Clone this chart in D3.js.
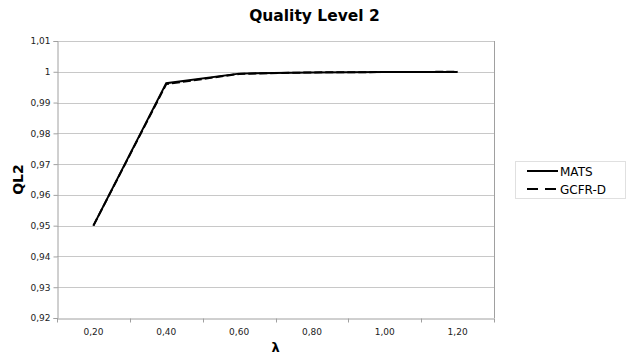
<!DOCTYPE html>
<html>
<head>
<meta charset="utf-8">
<script src="https://cdn.jsdelivr.net/npm/d3@7"></script>
<style>
  body { margin: 0; background: #fff; overflow: hidden; }
  svg { display: block; }
  text { font-family: "DejaVu Sans", Verdana, sans-serif; }
</style>
</head>
<body>
<div id="chart"></div>
<script>
const lambdas = ['0,20', '0,40', '0,60', '0,80', '1,00', '1,20']
const mats = [0.950, 0.9963, 0.9994, 0.9998, 0.9999, 0.99995]
const gcfrd = [0.950, 0.9960, 0.9993, 0.9998, 0.9999, 1.0000]
const yTicks = [0.92, 0.93, 0.94, 0.95, 0.96, 0.97, 0.98, 0.99, 1.00, 1.01]
const yTickLabels = ['0,92', '0,93', '0,94', '0,95', '0,96', '0,97', '0,98', '0,99', '1', '1,01']

const w = 629, h = 360
const pLeft = 57, pRight = 494, pTop = 41, pBottom = 318

const svg = d3.select('#chart').append('svg')
              .attr('width', w)
              .attr('height', h)

const xScale = d3.scaleBand()
                 .domain(lambdas)
                 .range([pLeft, pRight])

const yScale = d3.scaleLinear()
                 .domain([0.92, 1.01])
                 .range([pBottom, pTop])

// gridlines
svg.append('g')
   .selectAll('line')
   .data(yTicks.slice(1))
   .enter()
   .append('line')
   .attr('x1', pLeft)
   .attr('x2', pRight)
   .attr('y1', d => Math.round(yScale(d)) + 0.5)
   .attr('y2', d => Math.round(yScale(d)) + 0.5)
   .attr('stroke', '#c8c8c8')

// plot border right
svg.append('line')
   .attr('x1', pRight + 0.5).attr('x2', pRight + 0.5)
   .attr('y1', pTop).attr('y2', pBottom)
   .attr('stroke', '#a0a0a0')

const yAxis = svg.append('g')
                 .attr('transform', `translate(${pLeft + 0.5},0)`)
                 .call(d3.axisLeft(yScale)
                         .tickValues(yTicks)
                         .tickSize(4)
                         .tickFormat((d, i) => yTickLabels[i]))
yAxis.selectAll('text').attr('font-size', 9).attr('fill', '#222')
yAxis.selectAll('path, line').attr('stroke', '#a0a0a0')

const xAxis = svg.append('g')
                 .attr('transform', `translate(0,${pBottom + 0.5})`)
                 .call(d3.axisBottom(xScale).tickSize(0).tickPadding(10))
xAxis.selectAll('text').attr('font-size', 9).attr('fill', '#222')
xAxis.select('path').attr('stroke', '#a0a0a0')
// category separator ticks
xAxis.selectAll('.sep')
     .data(lambdas.map(l => xScale(l)).concat([pRight]))
     .enter()
     .append('line')
     .attr('x1', d => Math.round(d) + 0.5)
     .attr('x2', d => Math.round(d) + 0.5)
     .attr('y1', 0)
     .attr('y2', 4)
     .attr('stroke', '#a0a0a0')

const line = d3.line()
               .x((d, i) => xScale(lambdas[i]) + xScale.bandwidth() / 2)
               .y(d => yScale(d))

svg.append('path')
   .datum(gcfrd)
   .attr('d', line)
   .attr('fill', 'none')
   .attr('stroke', '#000')
   .attr('stroke-width', 2)
   .attr('stroke-dasharray', '8,3')

svg.append('path')
   .datum(mats)
   .attr('d', line)
   .attr('fill', 'none')
   .attr('stroke', '#000')
   .attr('stroke-width', 2)

// title and axis labels
svg.append('text')
   .attr('x', w / 2)
   .attr('y', 21)
   .attr('text-anchor', 'middle')
   .attr('font-size', 15.5)
   .attr('font-weight', 'bold')
   .text('Quality Level 2')

svg.append('text')
   .attr('transform', `translate(23,${(pTop + pBottom) / 2}) rotate(-90)`)
   .attr('text-anchor', 'middle')
   .attr('font-size', 14)
   .attr('font-weight', 'bold')
   .text('QL2')

svg.append('text')
   .attr('x', (pLeft + pRight) / 2)
   .attr('y', 352)
   .attr('text-anchor', 'middle')
   .attr('font-size', 13)
   .attr('font-weight', 'bold')
   .text('λ')

// legend
const legend = svg.append('g').attr('transform', 'translate(515,161)')
legend.append('rect')
      .attr('x', 0.5).attr('y', 0.5)
      .attr('width', 110).attr('height', 37)
      .attr('fill', '#fff')
      .attr('stroke', '#e0e0e0')

const entries = [['MATS', null], ['GCFR-D', '11,7']]
entries.forEach((e, i) => {
  const y = 10 + i * 18
  legend.append('line')
        .attr('x1', 12).attr('x2', 43)
        .attr('y1', y).attr('y2', y)
        .attr('stroke', '#000')
        .attr('stroke-width', 2)
        .attr('stroke-dasharray', e[1])
  legend.append('text')
        .attr('x', 45).attr('y', y + 5)
        .attr('font-size', 12)
        .text(e[0])
})
</script>
</body>
</html>
